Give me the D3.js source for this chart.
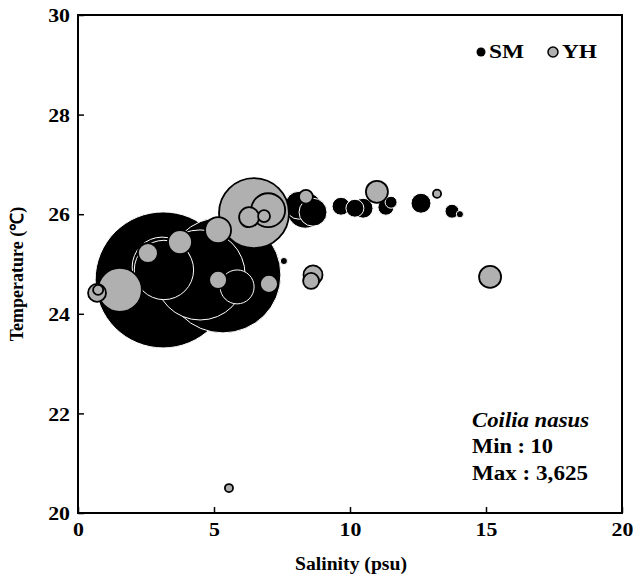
<!DOCTYPE html>
<html><head><meta charset="utf-8">
<script src="https://cdn.jsdelivr.net/npm/d3@7"></script>
<style>body{margin:0;background:#fff}svg{display:block}</style>
</head><body>
<svg id="c" width="633" height="579"></svg>
<script>
// Data (salinity psu, temperature °C, abundance)
const smSal   = [3.13, 5.33, 4.49, 3.09, 3.16, 5.85, 8.35, 8.13, 8.64, 9.67, 10.18, 10.48, 11.32, 11.51, 12.61, 13.75, 14.04, 7.57];
const smTemp  = [24.68, 24.78, 24.78, 24.94, 24.88, 24.54, 26.08, 26.18, 26.04, 26.16, 26.12, 26.12, 26.14, 26.24, 26.22, 26.06, 26.0, 25.06];
const smAbund = [3625, 2630, 1590, 700, 690, 226, 254, 153, 153, 63, 63, 78, 50, 28, 78, 38, 10, 10];

const yhSal   = [6.47, 6.99, 6.29, 6.84, 5.15, 3.75, 2.57, 5.15, 7.02, 1.54, 0.70, 0.74, 8.38, 10.99, 13.2, 8.64, 8.57, 15.15, 5.55];
const yhTemp  = [26.02, 26.08, 25.94, 25.96, 25.68, 25.44, 25.22, 24.68, 24.6, 24.48, 24.42, 24.48, 26.35, 26.45, 26.41, 24.78, 24.66, 24.74, 20.5];
const yhAbund = [960, 226, 78, 28, 132, 113, 78, 63, 63, 379, 63, 20, 38, 95, 13, 71, 50, 95, 13];

const xTicks = [0, 5, 10, 15, 20];
const yTicks = [20, 22, 24, 26, 28, 30];
const speciesName = "Coilia nasus";
const minLabel = "Min : 10";
const maxLabel = "Max : 3,625";

const svg = d3.select("#c");
const L = 78, R = 622, T = 15, B = 513;
const x = d3.scaleLinear().domain([0, 20]).range([L, R]);
const y = d3.scaleLinear().domain([20, 30]).range([B, T]);
const r = d3.scaleSqrt().domain([0, 3625]).range([0, 68]);
const font = "'Liberation Serif', 'Times New Roman', serif";

function stretch(sel, sx) {
  sel.each(function () {
    const t = d3.select(this);
    const tx = +t.attr("x") || 0, ty = +t.attr("y") || 0;
    t.attr("transform", `translate(${tx},${ty}) scale(${sx},1)`).attr("x", 0).attr("y", 0);
  });
}

const plot = svg.append("g");
plot.append("clipPath").attr("id", "clip").append("rect")
  .attr("x", L).attr("y", T).attr("width", R - L).attr("height", B - T);
const pg = plot.append("g").attr("clip-path", "url(#clip)");

const sm = smSal.map((s, i) => ({s, t: smTemp[i], v: smAbund[i]})).sort((a, b) => b.v - a.v);
const yh = yhSal.map((s, i) => ({s, t: yhTemp[i], v: yhAbund[i]})).sort((a, b) => b.v - a.v);

pg.selectAll("circle.sm").data(sm).join("circle").attr("class", "sm")
  .attr("cx", d => x(d.s)).attr("cy", d => y(d.t)).attr("r", d => r(d.v))
  .attr("fill", "#000").attr("stroke", "#fff").attr("stroke-width", 1);
pg.selectAll("circle.yh").data(yh).join("circle").attr("class", "yh")
  .attr("cx", d => x(d.s)).attr("cy", d => y(d.t)).attr("r", d => r(d.v))
  .attr("fill", "#b0b0b0").attr("stroke", "#000").attr("stroke-width", 1.8);

// Axes
const xAxis = d3.axisBottom(x).tickValues(xTicks).tickSizeInner(-6).tickSizeOuter(0).tickPadding(10);
const yAxis = d3.axisLeft(y).tickValues(yTicks).tickSizeInner(-6).tickSizeOuter(0).tickPadding(8);
const gx = svg.append("g").attr("transform", `translate(0,${B})`).call(xAxis);
const gy = svg.append("g").attr("transform", `translate(${L},0)`).call(yAxis);
[gx, gy].forEach(g => {
  g.select(".domain").remove();
  g.selectAll("line").attr("stroke", "#000").attr("stroke-width", 1.5);
  g.selectAll("text").attr("font-family", font).attr("font-weight", "bold")
    .attr("font-size", 19).attr("fill", "#000");
});
gy.selectAll("text").attr("dy", "0.35em");
stretch(gx.selectAll("text"), 1.15);
stretch(gy.selectAll("text"), 1.15);
// frame
svg.append("rect").attr("x", L).attr("y", T).attr("width", R - L).attr("height", B - T)
  .attr("fill", "none").attr("stroke", "#000").attr("stroke-width", 2);

// Axis titles
svg.append("text").attr("x", 295).attr("y", 570)
  .attr("textLength", 112).attr("lengthAdjust", "spacingAndGlyphs")
  .attr("font-family", font).attr("font-weight", "bold").attr("font-size", 18).text("Salinity (psu)");
svg.append("text").attr("transform", `translate(23,${(T + B) / 2 + 10}) rotate(-90)`).attr("text-anchor", "middle")
  .attr("font-family", font).attr("font-weight", "bold").attr("font-size", 18).text("Temperature (℃)");

// Legend
svg.append("circle").attr("cx", 481).attr("cy", 52).attr("r", 4.5).attr("fill", "#000");
svg.append("text").attr("x", 489).attr("y", 58).attr("textLength", 35).attr("lengthAdjust", "spacingAndGlyphs")
  .attr("font-family", font).attr("font-weight", "bold").attr("font-size", 19).text("SM");
svg.append("circle").attr("cx", 553).attr("cy", 52).attr("r", 5).attr("fill", "#b0b0b0")
  .attr("stroke", "#000").attr("stroke-width", 1.5);
svg.append("text").attr("x", 562).attr("y", 58).attr("textLength", 35).attr("lengthAdjust", "spacingAndGlyphs")
  .attr("font-family", font).attr("font-weight", "bold").attr("font-size", 19).text("YH");

// Annotation
const ann = svg.append("g").attr("font-family", font).attr("font-weight", "bold").attr("font-size", 20);
ann.append("text").attr("x", 472).attr("y", 427).attr("font-style", "italic")
  .attr("textLength", 117).attr("lengthAdjust", "spacingAndGlyphs").text(speciesName);
ann.append("text").attr("x", 472).attr("y", 453)
  .attr("textLength", 81).attr("lengthAdjust", "spacingAndGlyphs").text(minLabel);
ann.append("text").attr("x", 472).attr("y", 480)
  .attr("textLength", 116).attr("lengthAdjust", "spacingAndGlyphs").text(maxLabel);
</script>
</body></html>
